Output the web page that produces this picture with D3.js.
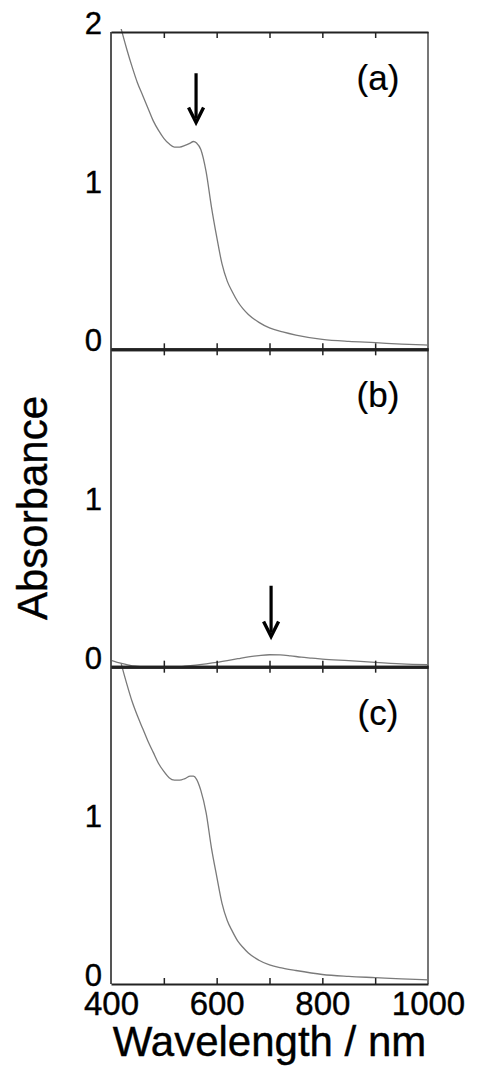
<!DOCTYPE html>
<html>
<head>
<meta charset="utf-8">
<script src="https://cdn.jsdelivr.net/npm/d3@7"></script>
<style>
  body { margin: 0; background: #fff; }
  svg { display: block; }
  text { font-family: "Liberation Sans", Arial, sans-serif; fill: #000; stroke: #000; stroke-width: 0.4px; }
</style>
</head>
<body>
<svg id="chart" width="477" height="1066"></svg>
<script>
// wavelength grid (nm) for the three spectra
var wlA = [400, 410, 420, 430, 440, 450, 460, 470, 480, 490, 500, 510, 520, 530, 540, 550, 556, 562, 570, 580, 590, 600, 610, 620, 630, 640, 650, 660, 680, 700, 725, 750, 800, 850, 900, 950, 1000];
var absA = [2.28, 2.14, 2.01, 1.89, 1.78, 1.68, 1.60, 1.52, 1.44, 1.38, 1.33, 1.295, 1.275, 1.275, 1.285, 1.30, 1.31, 1.30, 1.26, 1.12, 0.90, 0.71, 0.54, 0.43, 0.36, 0.30, 0.255, 0.22, 0.17, 0.135, 0.11, 0.09, 0.063, 0.05, 0.042, 0.033, 0.027];

var wlB = [400, 420, 440, 460, 480, 500, 520, 540, 560, 580, 600, 620, 640, 660, 680, 700, 720, 740, 760, 780, 800, 850, 900, 950, 1000];
var absB = [0.04, 0.02, 0.005, 0.0, -0.003, 0.0, -0.003, 0.003, 0.01, 0.018, 0.027, 0.038, 0.05, 0.062, 0.07, 0.075, 0.074, 0.068, 0.06, 0.054, 0.048, 0.038, 0.027, 0.018, 0.013];

var wlC = [400, 410, 420, 430, 440, 450, 460, 470, 480, 490, 500, 510, 520, 530, 540, 550, 556, 562, 570, 580, 590, 600, 610, 620, 630, 640, 650, 660, 680, 700, 725, 750, 800, 850, 900, 950, 1000];
var absC = [2.28, 2.14, 2.01, 1.89, 1.78, 1.69, 1.61, 1.53, 1.46, 1.39, 1.34, 1.30, 1.285, 1.285, 1.295, 1.31, 1.31, 1.29, 1.22, 1.08, 0.86, 0.68, 0.51, 0.40, 0.33, 0.27, 0.23, 0.195, 0.15, 0.12, 0.10, 0.085, 0.06, 0.048, 0.04, 0.032, 0.026];

var xTicks = [400, 500, 600, 700, 800, 900, 1000];
var xLabels = [400, 600, 800, 1000];
var panelNames = ["(a)", "(b)", "(c)"];
var yTicksTop = [0, 1, 2];
var yTicksOther = [0, 1];
// arrows: [wavelength, from absorbance, to absorbance]
var arrowA = [561, 1.74, 1.43];
var arrowB = [703, 0.51, 0.19];

var svg = d3.select("#chart");
var plotL = 111, plotR = 428, plotT = 32, plotB = 984;
var ph = (plotB - plotT) / 3;

var x = d3.scaleLinear().domain([400, 1000]).range([plotL, plotR]);

var panels = [
  {wl: wlA, a: absA, name: panelNames[0], yt: yTicksTop, arrow: arrowA},
  {wl: wlB, a: absB, name: panelNames[1], yt: yTicksOther, arrow: arrowB},
  {wl: wlC, a: absC, name: panelNames[2], yt: yTicksOther, arrow: null}
];

var defs = svg.append("defs");

panels.forEach(function(p, i) {
  var y0 = plotT + i * ph, y1 = y0 + ph;
  var y = d3.scaleLinear().domain([0, 2]).range([y1, y0]);

  var cid = "clip" + i;
  defs.append("clipPath").attr("id", cid)
    .append("rect").attr("x", plotL).attr("y", y0 - 3).attr("width", plotR - plotL).attr("height", ph + 6);

  var line = d3.line()
    .x(function(d, k) { return x(p.wl[k]); })
    .y(function(d) { return y(d); })
    .curve(d3.curveMonotoneX);

  // spectrum
  svg.append("path")
    .datum(p.a)
    .attr("clip-path", "url(#" + cid + ")")
    .attr("d", line)
    .attr("fill", "none")
    .attr("stroke", "#7a7a7a")
    .attr("stroke-width", 1.3);

  // y tick labels
  var ya = svg.append("g")
    .attr("transform", "translate(" + plotL + ",0)")
    .call(d3.axisLeft(y).tickValues(p.yt).tickFormat(d3.format("d")).tickSize(0).tickPadding(9));
  ya.select(".domain").remove();
  ya.selectAll("text")
    .attr("dy", "0.05em")
    .attr("fill", "#000")
    .style("font-size", "31px")
    .style("font-family", "'Liberation Sans', Arial, sans-serif");

  // panel label
  svg.append("text")
    .attr("x", 378).attr("y", y0 + 58)
    .attr("text-anchor", "middle")
    .style("font-size", "35px")
    .style("stroke-width", "0.2px")
    .text(p.name);

  // arrow
  if (p.arrow) {
    var ax = x(p.arrow[0]), ay0 = y(p.arrow[1]), ay1 = y(p.arrow[2]);
    svg.append("line")
      .attr("x1", ax).attr("x2", ax).attr("y1", ay0).attr("y2", ay1 - 4)
      .attr("stroke", "#000").attr("stroke-width", 3.2);
    svg.append("path")
      .attr("d", "M" + (ax - 7.5) + "," + (ay1 - 15) + "L" + ax + "," + ay1 + "L" + (ax + 7.5) + "," + (ay1 - 15))
      .attr("fill", "none").attr("stroke", "#000").attr("stroke-width", 3.4)
      .attr("stroke-linejoin", "miter");
  }
});

// frame
svg.append("line").attr("x1", plotL).attr("x2", plotL).attr("y1", plotT).attr("y2", plotB)
  .attr("stroke", "#555").attr("stroke-width", 2);
svg.append("line").attr("x1", plotR).attr("x2", plotR).attr("y1", plotT).attr("y2", plotB)
  .attr("stroke", "#777").attr("stroke-width", 2);

// x axes: top of (a), boundaries between panels, bottom of (c)
for (var j = 0; j <= 3; j++) {
  var yy = plotT + j * ph;
  if (j < 3) {
    var g = svg.append("g").attr("transform", "translate(0," + yy + ")");
    g.call(d3.axisBottom(x).tickValues(xTicks.slice(1, -1)).tickFormat("").tickSize(6).tickSizeOuter(0));
    g.select(".domain").attr("stroke", "#222").attr("stroke-width", j === 0 ? 2 : 3);
    g.selectAll(".tick line").attr("stroke", "#222").attr("stroke-width", 1.5);
  }
  if (j > 0) {
    var g2 = svg.append("g").attr("transform", "translate(0," + yy + ")");
    if (j < 3) {
      g2.call(d3.axisTop(x).tickValues(xTicks.slice(1, -1)).tickFormat("").tickSize(6).tickSizeOuter(0));
    } else {
      g2.call(d3.axisBottom(x).tickValues(xTicks).tickFormat(function(d) { return xLabels.indexOf(d) >= 0 ? d : ""; })
        .tickSizeInner(-6).tickSizeOuter(0).tickPadding(8));
      g2.selectAll(".tick line").filter(function(d) { return d === 400 || d === 1000; }).remove();
      g2.selectAll("text").attr("fill", "#000").style("font-size", "33px")
        .style("font-family", "'Liberation Sans', Arial, sans-serif");
    }
    g2.select(".domain").attr("stroke", "#222").attr("stroke-width", j < 3 ? 3 : 2);
    g2.selectAll(".tick line").attr("stroke", "#222").attr("stroke-width", 1.5);
  }
}

// axis titles
svg.append("text")
  .attr("x", (plotL + plotR) / 2).attr("y", 1056)
  .attr("text-anchor", "middle")
  .style("font-size", "42px")
  .text("Wavelength / nm");

svg.append("text")
  .attr("transform", "translate(47," + (plotT + 1.5 * ph) + ") rotate(-90)")
  .attr("text-anchor", "middle")
  .style("font-size", "42px")
  .text("Absorbance");
</script>
</body>
</html>
